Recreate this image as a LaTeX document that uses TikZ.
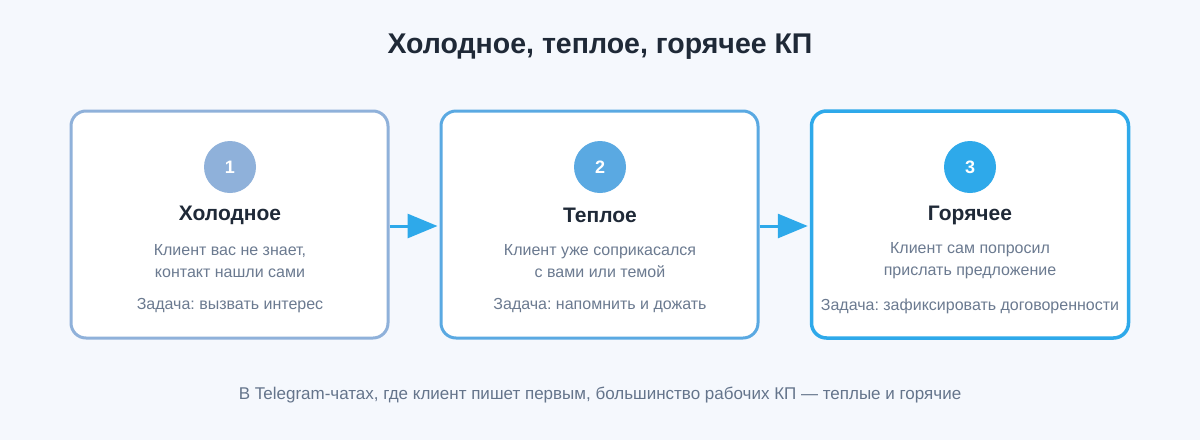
\documentclass[tikz,border=0pt]{standalone}
\usepackage{fontspec}
\setmainfont{Liberation Sans}
\frenchspacing
\usetikzlibrary{arrows.meta}
\definecolor{bg}{HTML}{F5F8FD}
\definecolor{cold}{HTML}{8FB1DA}
\definecolor{warm}{HTML}{5AA9E2}
\definecolor{hot}{HTML}{2EA9EA}
\definecolor{titlec}{HTML}{1F2937}
\definecolor{textc}{HTML}{6B7A90}
\definecolor{footc}{HTML}{64748B}
\tikzset{
  card/.style={draw=#1, line width=3pt, fill=white, rounded corners=15pt, minimum width=317pt, minimum height=227pt, inner sep=0pt},
  badge/.style={circle, fill=#1, minimum size=52pt, inner sep=0pt, text=white, font=\fontsize{18}{20}\selectfont\bfseries},
  cardtitle/.style={text=titlec, font=\fontsize{21}{24}\selectfont\bfseries},
  desc/.style={text=textc, font=\fontsize{16}{22}\selectfont, align=center},
  flow/.style={draw=hot, line width=3pt, -{Triangle[length=30pt,width=24pt]}, shorten >=2pt},
}
\begin{document}
\begin{tikzpicture}[x=1pt,y=-1pt]
\useasboundingbox[fill=bg] (0,0) rectangle (1200,440);
\node[text=titlec, font=\fontsize{28.5}{32}\selectfont\bfseries] (title) at (600,47) {Холодное, теплое, горячее КП};

\node[card=cold] (c1) at (229.5,224.5) {};
\node[card=warm] (c2) at (599.5,224.5) {};
\node[card=hot, line width=3.5pt] (c3) at (970,224.5) {};

\node[badge=cold] (b1) at (230,167) {1};
\node[badge=warm] (b2) at (600,167) {2};
\node[badge=hot] (b3) at (970,167) {3};

\node[cardtitle] (t1) at (230,215) {Холодное};
\node[cardtitle] (t2) at (600,215) {Теплое};
\node[cardtitle] (t3) at (970,215) {Горячее};

\node[desc] (d1) at (230,261) {Клиент вас не знает,\\контакт нашли сами};
\node[desc] (d2) at (600,261) {Клиент уже соприкасался\\с вами или темой};
\node[desc] (d3) at (970,261) {Клиент сам попросил\\прислать предложение};

\node[desc] (k1) at (230,306) {Задача: вызвать интерес};
\node[desc] (k2) at (600,306) {Задача: напомнить и дожать};
\node[desc] (k3) at (970,306) {Задача: зафиксировать договоренности};

\draw[flow] (c1.east |- 0,226) -- (c2.west |- 0,226);
\draw[flow] (c2.east |- 0,226) -- (c3.west |- 0,226);

\node[text=footc, font=\fontsize{17}{20}\selectfont] (foot) at (600,395) {В Telegram-чатах, где клиент пишет первым, большинство рабочих КП — теплые и горячие};
\end{tikzpicture}
\end{document}
